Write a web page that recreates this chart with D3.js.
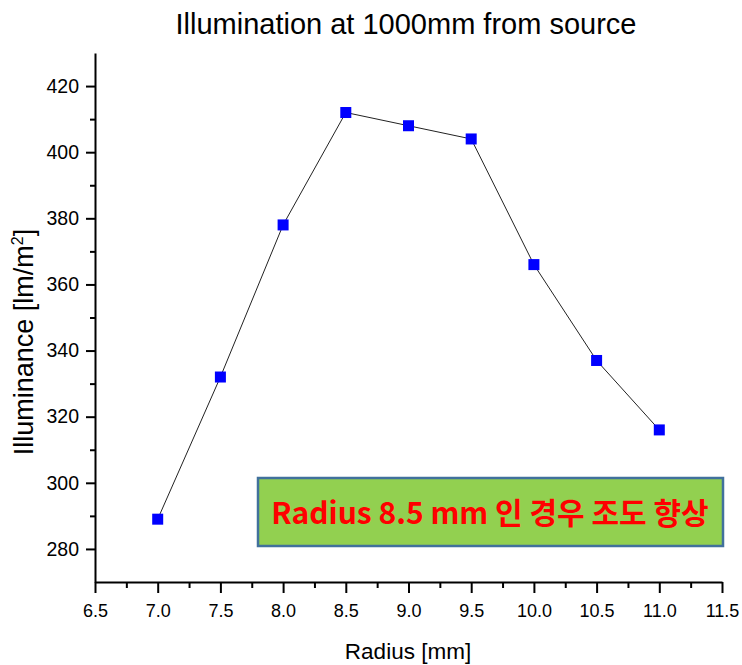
<!DOCTYPE html>
<html>
<head>
<meta charset="utf-8">
<script src="https://cdn.jsdelivr.net/npm/d3@7"></script>
<style>
  html, body { margin: 0; padding: 0; background: #fff; }
  svg { display: block; }
</style>
</head>
<body>
<svg id="chart" width="742" height="665"></svg>
<script>
// Illuminance measured at 1000 mm for each source radius
const radius = [7.0, 7.5, 8.0, 8.5, 9.0, 9.5, 10.0, 10.5, 11.0];
const illuminance = [289, 332, 378, 412, 408, 404, 366, 337, 316];
const xTicks = [6.5, 7.0, 7.5, 8.0, 8.5, 9.0, 9.5, 10.0, 10.5, 11.0, 11.5];
const yTicks = [280, 300, 320, 340, 360, 380, 400, 420];
const titleText = "Illumination at 1000mm from source";
const noteText = "Radius 8.5 mm 인 경우 조도 향상";

const svg = d3.select("#chart");
const plotLeft = 95, plotRight = 722, plotTop = 53, plotBottom = 582;
const font = "Liberation Sans, Arial, sans-serif";

const x = d3.scaleLinear().domain([6.5, 11.5]).range([plotLeft, plotRight]);
const y = d3.scaleLinear().domain([270, 430]).range([plotBottom, plotTop]);

// minor ticks halfway between major ones
const xMinor = d3.range(6.75, 11.5, 0.5);
const yMinor = d3.range(290, 430, 20);

// bottom axis
const gx = svg.append("g").attr("transform", `translate(0,${plotBottom})`);
gx.call(d3.axisBottom(x).tickValues(xMinor).tickSize(6).tickFormat(""))
  .call(g => g.select(".domain").remove());
gx.append("g").call(d3.axisBottom(x).tickValues(xTicks).tickSize(11).tickSizeOuter(0).tickPadding(0)
    .tickFormat(d3.format(".1f")));
gx.selectAll("line, path").attr("stroke", "#000").attr("stroke-width", 2);
gx.selectAll("text").attr("font-family", font).attr("font-size", 18).attr("fill", "#000")
  .attr("dy", null).attr("y", 35);

// left axis
const gy = svg.append("g").attr("transform", `translate(${plotLeft},0)`);
gy.call(d3.axisLeft(y).tickValues(yMinor).tickSize(5).tickFormat(""))
  .call(g => g.select(".domain").remove());
gy.append("g").call(d3.axisLeft(y).tickValues(yTicks).tickSize(9).tickSizeOuter(0).tickPadding(7)
    .tickFormat(d3.format("d")));
gy.selectAll("line, path").attr("stroke", "#000").attr("stroke-width", 2);
gy.selectAll("text").attr("font-family", font).attr("font-size", 19.5).attr("fill", "#000");

// title and axis labels
svg.append("text").attr("x", 406).attr("y", 34).attr("text-anchor", "middle")
  .attr("font-family", font).attr("font-size", 29).text(titleText);
svg.append("text").attr("x", 408).attr("y", 659).attr("text-anchor", "middle")
  .attr("font-family", font).attr("font-size", 22.5).text("Radius [mm]");
const yl = svg.append("text").attr("transform", "translate(33,342) rotate(-90)")
  .attr("text-anchor", "middle").attr("font-family", font).attr("font-size", 27);
yl.append("tspan").text("Illuminance [lm/m");
yl.append("tspan").attr("font-size", 16).attr("dy", -10).text("2");
yl.append("tspan").attr("dy", 10).text("]");

// data line and square markers
const pts = radius.map((r, i) => [r, illuminance[i]]);
svg.append("path").datum(pts)
  .attr("fill", "none").attr("stroke", "#222").attr("stroke-width", 1)
  .attr("d", d3.line().x(d => x(d[0])).y(d => y(d[1])));
const s = 11;
svg.selectAll("rect.pt").data(pts).join("rect").attr("class", "pt")
  .attr("x", d => x(d[0]) - s / 2).attr("y", d => y(d[1]) - s / 2)
  .attr("width", s).attr("height", s).attr("fill", "#0000ff");

// annotation box
svg.append("rect").attr("x", 258).attr("y", 478).attr("width", 465).attr("height", 68)
  .attr("fill", "#92d050").attr("stroke", "#41719c").attr("stroke-width", 2.5);
svg.append("text").attr("x", 490).attr("y", 524).attr("text-anchor", "middle")
  .attr("font-family", "Noto Sans CJK KR, sans-serif").attr("font-weight", "bold")
  .attr("font-size", 30).attr("fill", "#ff0000").text(noteText);
</script>
</body>
</html>
